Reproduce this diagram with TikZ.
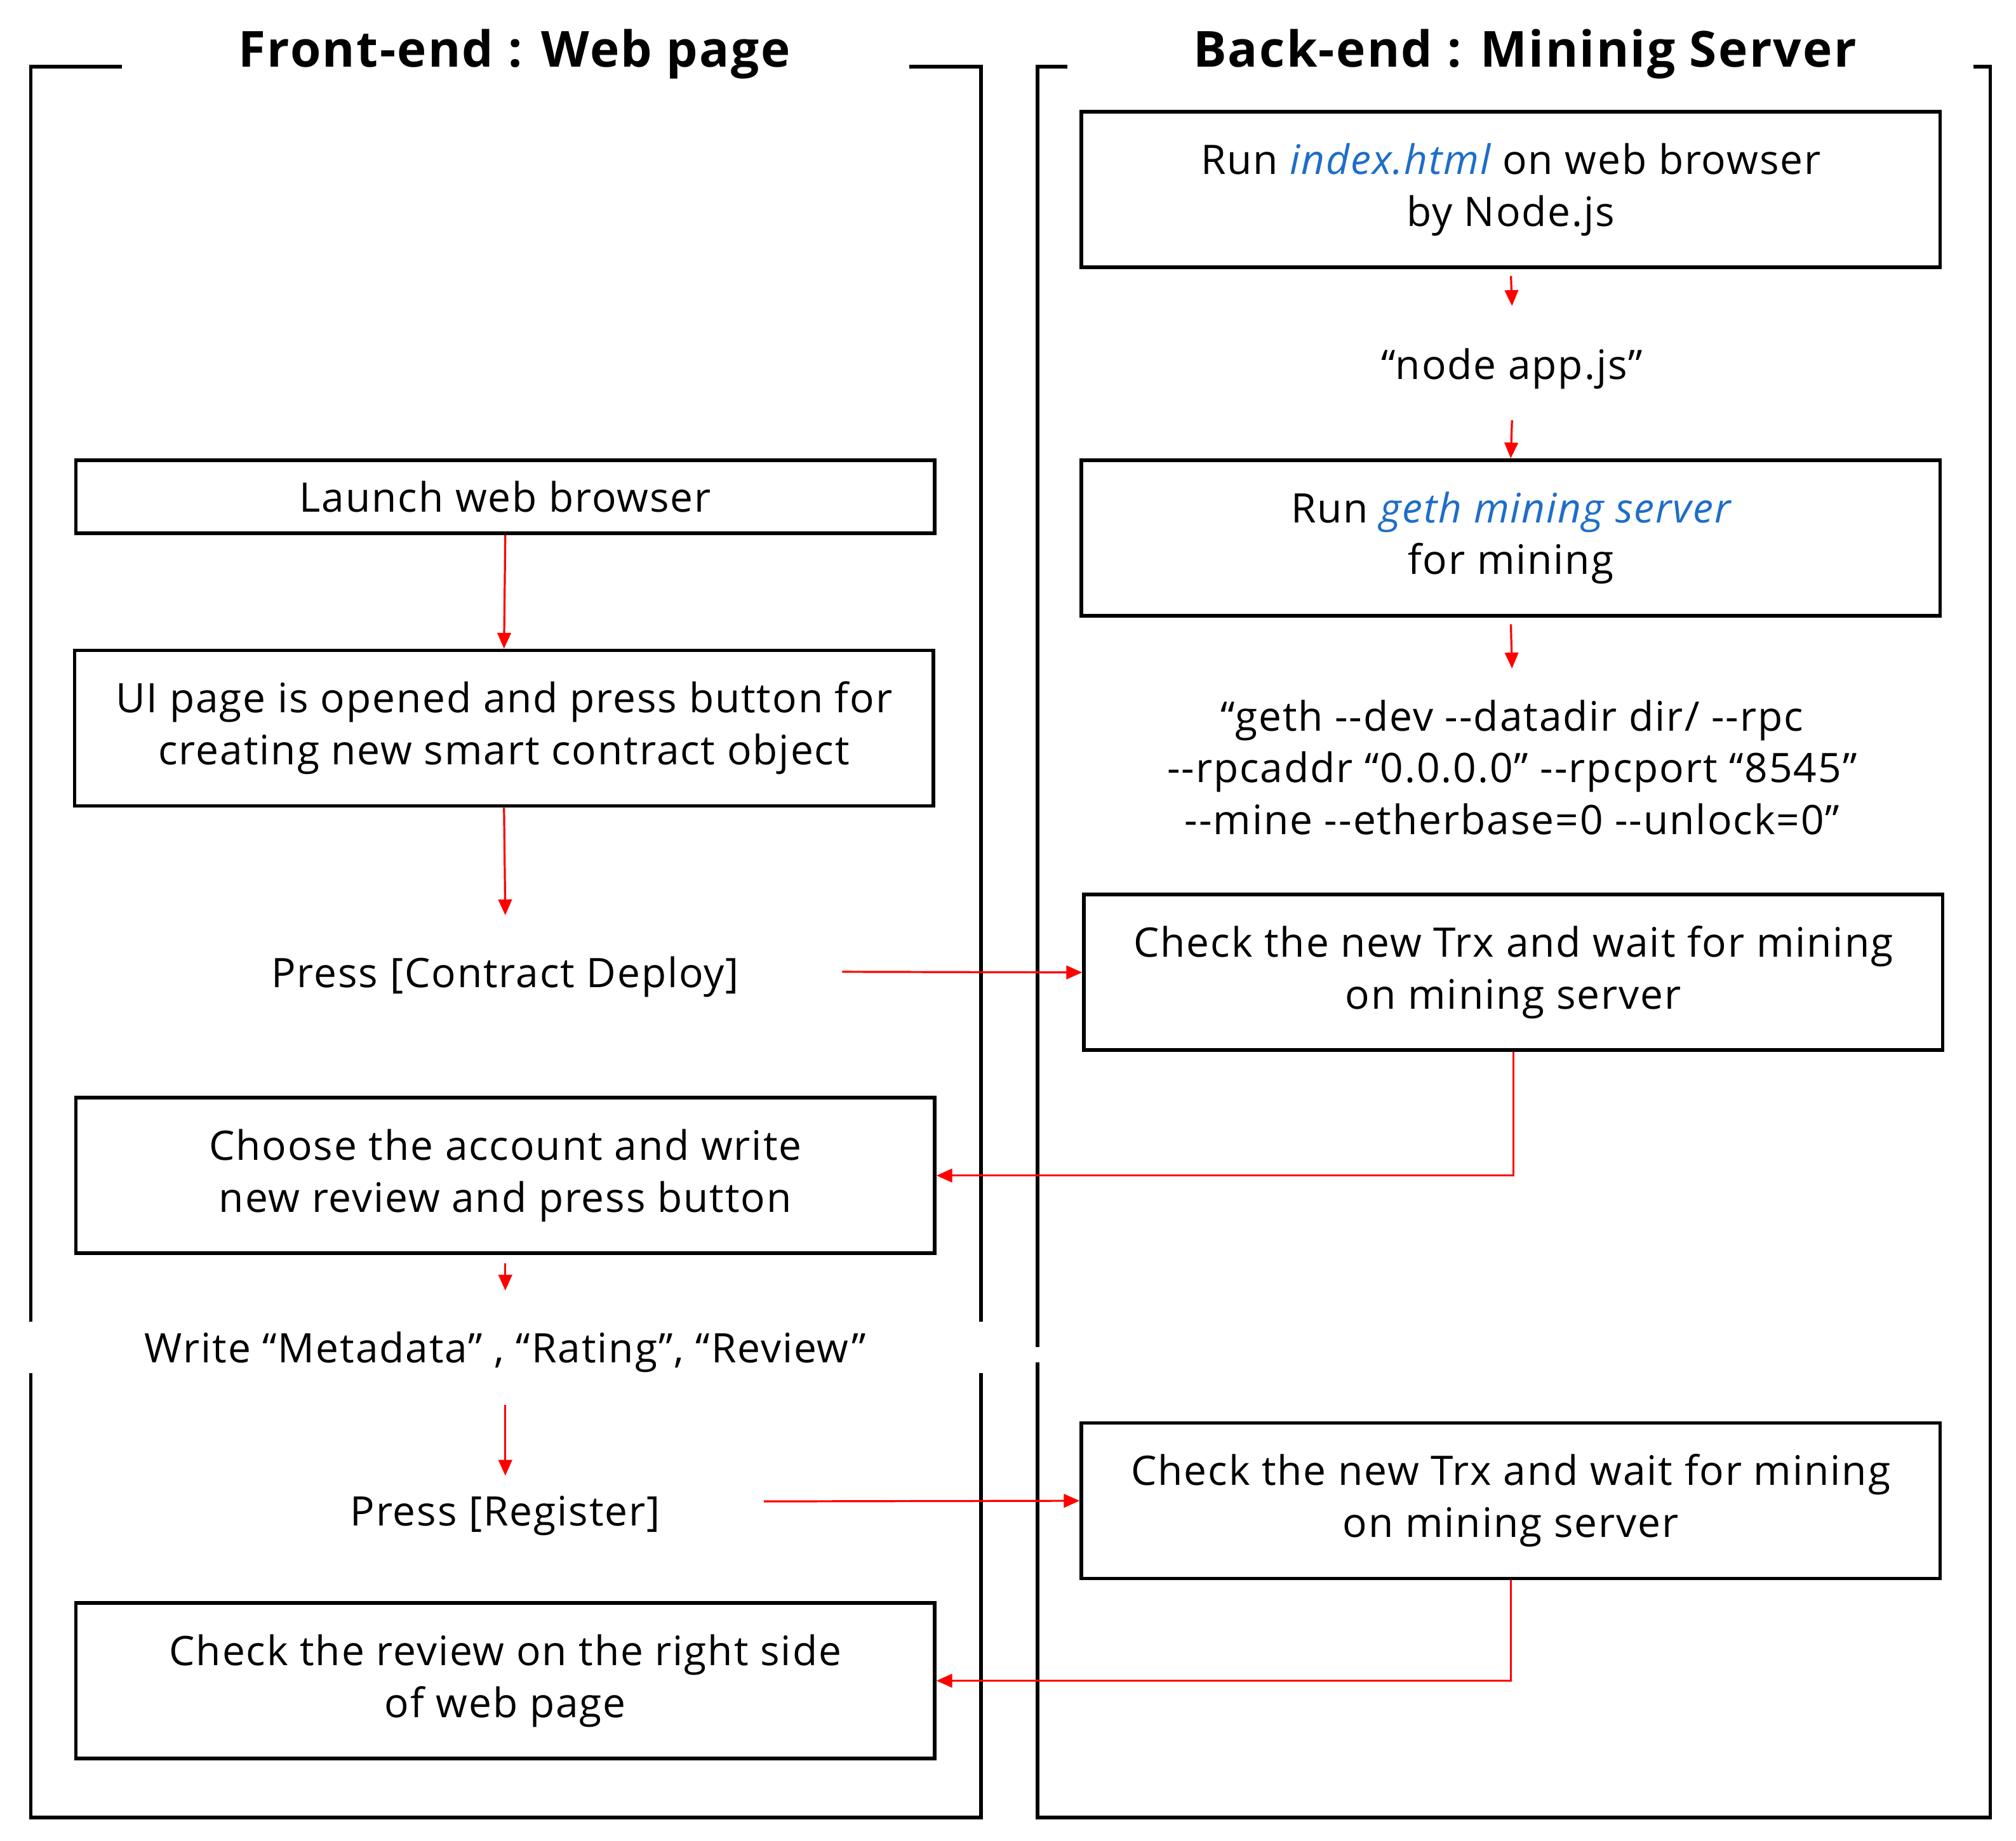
\documentclass[tikz,border=0pt]{standalone}
\usepackage{fontspec}
\setmainfont{Open Sans}[LetterSpace=3]
\usetikzlibrary{arrows.meta}
\definecolor{lblue}{RGB}{30,110,200}
\newcommand{\dd}{-{}-}
\begin{document}
\begin{tikzpicture}[x=0.02cm,y=-0.02cm,
  box/.style={draw,line width=1.6pt,minimum width=13.36cm,align=center,inner sep=0pt,font=\fontsize{18}{23}\selectfont},
  txt/.style={align=center,font=\fontsize{18}{23}\selectfont},
  frame/.style={line width=1.6pt},
  arr/.style={red,line width=0.9pt,-{Triangle[length=7pt,width=6pt]}},
  ttl/.style={font=\fontsize{22}{26}\selectfont\bfseries}]
\useasboundingbox (0,0) rectangle (1568,1432);
% frames
\draw[frame] (95,52)--(24,52)--(24,1028);
\draw[frame] (24,1068)--(24,1414)--(763,1414)--(763,1068);
\draw[frame] (763,1028)--(763,52)--(707,52);
\draw[frame] (830,52)--(807,52)--(807,1048);
\draw[frame] (807,1060)--(807,1414)--(1548,1414)--(1548,52)--(1535,52);
\node[ttl] (t1) at (400,42) {Front-end : Web page};
\node[ttl] (t2) at (1186,42) {Back-end : Mininig Server};
% left
\node[box,minimum height=1.14cm] (launch) at (393,386.5) {Launch web browser};
\node[box,minimum height=2.42cm] (ui) at (392,566.5) {UI page is opened and press button for\\creating new smart contract object};
\node[txt] (deploy) at (393,760) {Press [Contract Deploy]};
\node[box,minimum height=2.42cm] (choose) at (393,914.5) {Choose the account and write\\new review and press button};
\node[txt] (write) at (393,1052) {Write “Metadata” , “Rating”, “Review”};
\node[txt] (reg) at (393,1179) {Press [Register]};
\node[box,minimum height=2.42cm] (check) at (393,1307.5) {Check the review on the right side\\of web page};
% right
\node[box,minimum height=2.42cm] (idx) at (1175,147.5) {Run \textcolor{lblue}{\itshape index.html} on web browser\\by Node.js};
\node[txt] (node) at (1176,287) {“node app.js”};
\node[box,minimum height=2.42cm] (geth) at (1175,418.5) {Run \textcolor{lblue}{\itshape geth mining server}\\for mining};
\node[txt] (cmd) at (1176,597) {“geth \dd dev \dd datadir dir/ \dd rpc\\\dd rpcaddr “0.0.0.0” \dd rpcport “8545”\\\dd mine \dd etherbase=0 \dd unlock=0”};
\node[box,minimum height=2.42cm] (c1) at (1177,756.5) {Check the new Trx and wait for mining\\on mining server};
\node[box,minimum height=2.42cm] (c2) at (1175,1167.5) {Check the new Trx and wait for mining\\on mining server};
% arrows
\draw[arr] (launch.south) -- (ui.north);
\draw[arr] (ui.south) -- (393,712);
\draw[arr] (393,983) -- (393,1004);
\draw[arr] (393,1093) -- (393,1148);
\draw[arr,shorten <=3pt] (idx.south) -- (1176,238);
\draw[arr] (1176,327) -- (geth.north);
\draw[arr,shorten <=3pt] (geth.south) -- (1176,520);
\draw[arr] (655,756) -- (c1.west);
\draw[arr] (c1.south) |- (choose.east);
\draw[arr] (594,1168) -- (c2.west);
\draw[arr] (c2.south) |- (check.east);
\end{tikzpicture}
\end{document}
